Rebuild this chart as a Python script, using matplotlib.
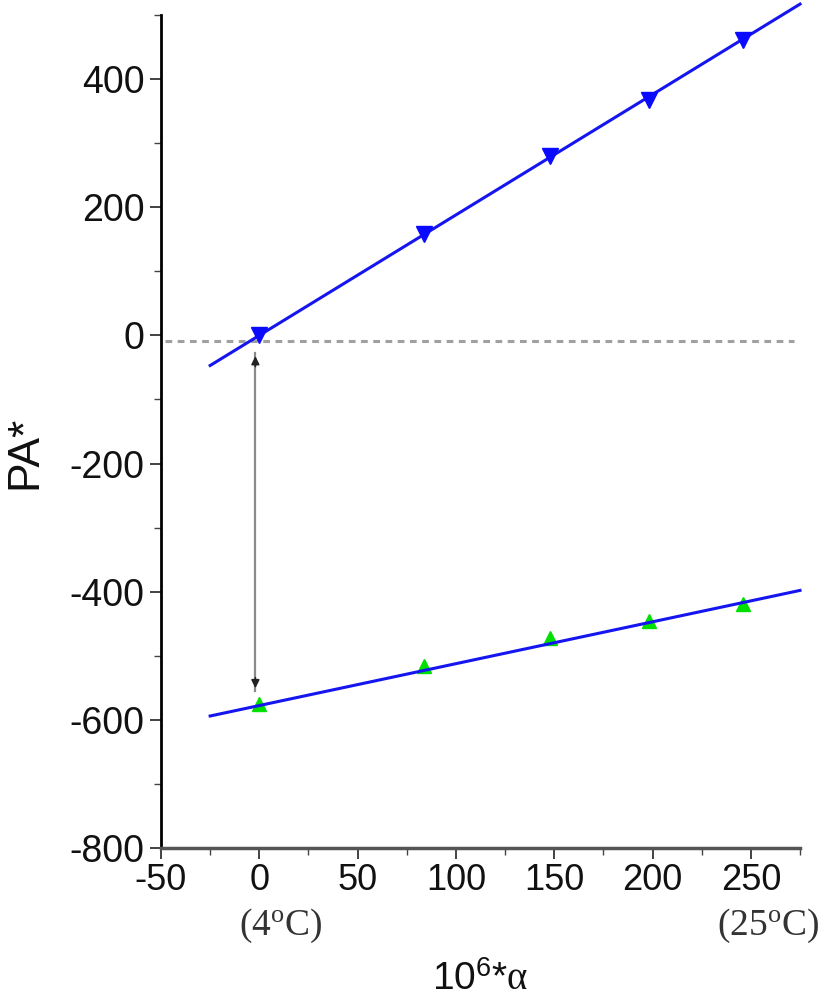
import numpy as np
import matplotlib
matplotlib.use("Agg")
import matplotlib.pyplot as plt
from matplotlib.ticker import MultipleLocator

plt.rcParams['font.family'] = ['Liberation Sans', 'DejaVu Sans']
plt.rcParams['axes.unicode_minus'] = False
plt.rcParams['mathtext.fontset'] = 'custom'
plt.rcParams['mathtext.rm'] = 'Liberation Serif'
plt.rcParams['mathtext.it'] = 'Liberation Serif:italic'
plt.rcParams['mathtext.sf'] = 'Liberation Sans'

# measured points (10^6*alpha vs PA*)
alpha = [0, 84, 148, 198, 246]
pa_upper = [0, 159, 280, 367, 461]
pa_lower = [-575, -516, -473, -445, -419]

# fitted lines, read at the ends
fit_x = [-25, 275]
fit_upper = [-47, 517]
fit_lower = [-594, -398]

# dashed zero level and the double arrow
zero_x = [-48, 272]
zero_y = [-8, -8]
arrow_x = -2
arrow_top = -28
arrow_bottom = -555

fig = plt.figure(figsize=(8.29, 10), dpi=100)
ax = fig.add_axes([161/829, 1 - 848/1000, (800 - 161)/829, (848 - 15)/1000])

ax.plot(zero_x, zero_y, color='#a0a0a0', lw=2.2, ls=(0, (2.2, 1.8)), zorder=1)

ax.plot(alpha, pa_lower, ls='none', marker='^', ms=10, color='#00e000', zorder=2)
ax.plot(fit_x, fit_lower, color='#1515f0', lw=2.2, zorder=3, clip_on=False)
ax.plot(fit_x, fit_upper, color='#1515f0', lw=2.2, zorder=3, clip_on=False)
ax.plot(alpha, pa_upper, ls='none', marker='v', ms=11, color='#0a0aff', zorder=4)

# double arrow: gray shaft, dark heads
ax.plot([arrow_x, arrow_x], [arrow_top, arrow_bottom], color='#8a8a8a', lw=1.6, zorder=2)
ax.annotate('', xy=(arrow_x, arrow_top), xytext=(arrow_x, arrow_top - 25),
            arrowprops=dict(arrowstyle='-|>', color='#222222', lw=1.2, mutation_scale=12))
ax.annotate('', xy=(arrow_x, arrow_bottom), xytext=(arrow_x, arrow_bottom + 25),
            arrowprops=dict(arrowstyle='-|>', color='#222222', lw=1.2, mutation_scale=12))

ax.set_xlim(-50, 275)
ax.set_ylim(-800, 500)
ax.xaxis.set_major_locator(MultipleLocator(50))
ax.xaxis.set_minor_locator(MultipleLocator(25))
ax.yaxis.set_major_locator(MultipleLocator(200))
ax.yaxis.set_minor_locator(MultipleLocator(100))
ax.set_xticks(np.arange(-50, 251, 50))

for s in ['top', 'right']:
    ax.spines[s].set_visible(False)
ax.spines['left'].set_linewidth(2)
ax.spines['bottom'].set_linewidth(2.5)
ax.spines['bottom'].set_color('#555555')

ax.tick_params(which='major', direction='out', length=8, width=1.2, labelsize=27, pad=4, colors='#222222')
ax.tick_params(which='minor', direction='out', length=5, width=1.0, colors='#444444')
ax.tick_params(axis='x', which='major', labelsize=26, pad=3)
ax.tick_params(axis='both', labelcolor='#111111')

# axis titles
fig.text(25/829, 1 - 452/1000, 'PA*', rotation=90, ha='center', va='center', fontsize=32, color='#111111')
ax.text(112.5, -1022, r'10$^{\mathsf{6}}$*$\mathrm{\alpha}$', ha='center', va='baseline',
        fontsize=28, color='#111111', clip_on=False)

# temperature notes under the axis
ax.text(11, -922, r'(4$^{\mathrm{o}}$C)', ha='center', va='center', fontsize=27,
        family='Liberation Serif', color='#333333', clip_on=False)
ax.text(259, -922, r'(25$^{\mathrm{o}}$C)', ha='center', va='center', fontsize=27,
        family='Liberation Serif', color='#333333', clip_on=False)

fig.savefig('out.png', dpi=100)
